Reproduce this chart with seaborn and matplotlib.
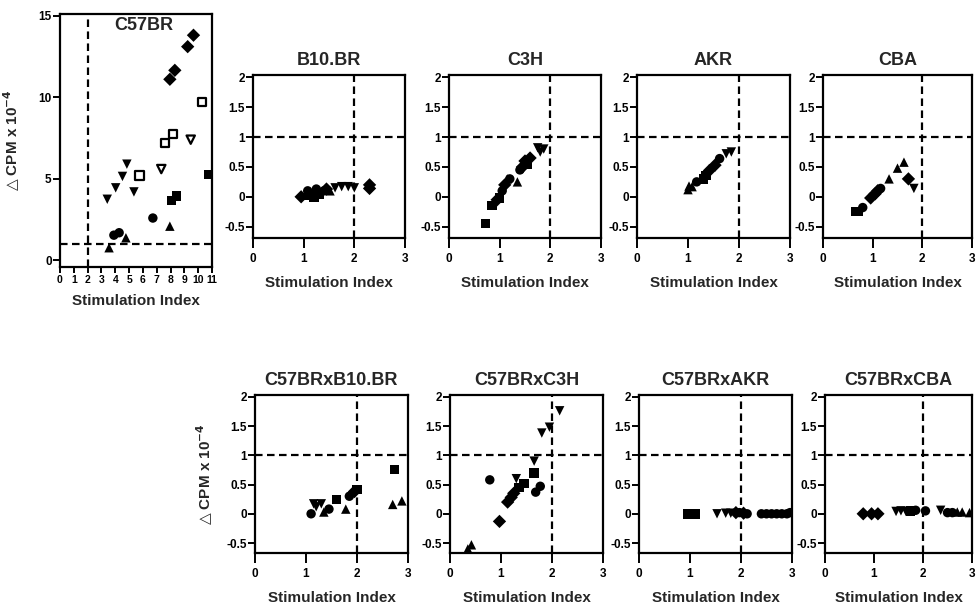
import matplotlib
matplotlib.use("Agg")
import matplotlib.pyplot as plt
import pandas as pd
import seaborn as sns

# symbols: D diamond, o circle, s square, ^ triangle, v down triangle, so / vo = open square / open down triangle

# C57BR (parental, own panel)
c57br_si = [9.66, 9.24, 8.31, 7.95, 10.27, 8.19, 7.58, 5.75, 9.46, 7.33, 4.84, 4.52, 4.03, 3.42, 5.35,
            10.76, 8.43, 8.07, 6.72, 4.28, 3.9, 7.95, 4.77, 3.55]
c57br_cpm = [13.8, 13.1, 11.65, 11.1, 9.7, 7.76, 7.2, 5.2, 7.4, 5.6, 5.9, 5.15, 4.45, 3.75, 4.2,
             5.27, 3.94, 3.67, 2.6, 1.7, 1.55, 2.1, 1.39, 0.78]
c57br_sym = ['D', 'D', 'D', 'D', 'so', 'so', 'so', 'so', 'vo', 'vo', 'v', 'v', 'v', 'v', 'v',
             's', 's', 's', 'o', 'o', 'o', '^', '^', '^']

# B10.BR
b10br_si = [0.95, 1.45, 2.3, 2.3, 1.08, 1.25, 1.4, 1.2, 1.1, 1.3, 1.52, 1.62, 1.75, 1.88, 2.0]
b10br_cpm = [0.0, 0.13, 0.2, 0.14, 0.1, 0.13, 0.1, 0.0, 0.03, 0.05, 0.1, 0.15, 0.17, 0.17, 0.15]
b10br_sym = ['D', 'D', 'D', 'D', 'o', 'o', 'o', 's', 's', 's', '^', 'v', 'v', 'v', 'v']

# C3H
c3h_si = [0.72, 0.85, 1.0, 1.55, 0.95, 1.1, 1.45, 1.6, 1.5, 1.05, 1.2, 1.4, 1.35, 1.15, 1.75, 1.87, 1.8]
c3h_cpm = [-0.45, -0.15, -0.02, 0.55, -0.05, 0.2, 0.5, 0.65, 0.6, 0.1, 0.3, 0.45, 0.25, 0.3, 0.82, 0.8, 0.75]
c3h_sym = ['s', 's', 's', 's', 'D', 'D', 'D', 'D', 'D', 'o', 'o', 'o', '^', '^', 'v', 'v', 'v']

# AKR
akr_si = [1.0, 1.02, 1.08, 1.17, 1.3, 1.35, 1.42, 1.53, 1.62, 1.75, 1.85]
akr_cpm = [0.12, 0.18, 0.17, 0.25, 0.3, 0.36, 0.44, 0.53, 0.64, 0.72, 0.75]
akr_sym = ['^', '^', '^', 'o', 's', 's', 'D', 'D', 'o', 'v', 'v']

# CBA
cba_si = [0.66, 0.72, 0.8, 0.96, 1.05, 1.1, 1.16, 1.33, 1.5, 1.63, 1.72, 1.83]
cba_cpm = [-0.25, -0.25, -0.18, -0.02, 0.05, 0.1, 0.14, 0.3, 0.48, 0.58, 0.3, 0.14]
cba_sym = ['s', 's', 'o', 'D', 'D', 'D', 'o', '^', '^', '^', 'D', 'v']

# C57BRxB10.BR
xb10_si = [1.1, 1.45, 1.85, 1.15, 1.3, 1.2, 1.35, 1.78, 2.7, 2.88, 1.6, 2.0, 2.74, 1.95]
xb10_cpm = [0.0, 0.08, 0.3, 0.17, 0.17, 0.12, 0.03, 0.08, 0.16, 0.22, 0.24, 0.42, 0.76, 0.38]
xb10_sym = ['o', 'o', 'o', 'v', 'v', 'v', '^', '^', '^', '^', 's', 's', 's', 'D']

# C57BRxC3H
xc3h_si = [2.15, 1.95, 1.8, 1.65, 1.3, 1.65, 1.45, 1.35, 0.78, 1.77, 1.68, 1.25, 1.13, 0.97, 1.2, 0.42, 0.35]
xc3h_cpm = [1.76, 1.48, 1.38, 0.9, 0.6, 0.7, 0.52, 0.45, 0.58, 0.47, 0.37, 0.35, 0.2, -0.13, 0.28, -0.53, -0.6]
xc3h_sym = ['v', 'v', 'v', 'v', 'v', 's', 's', 's', 'o', 'o', 'o', 'D', 'D', 'D', 'D', '^', '^']

# C57BRxAKR
xakr_si = [0.95, 1.0, 1.05, 1.1, 1.53, 1.7, 1.8, 1.9, 2.05, 1.97, 2.12,
           2.4, 2.5, 2.6, 2.7, 2.8, 2.9, 2.96]
xakr_cpm = [0.0, 0.0, 0.0, 0.0, 0.0, 0.01, 0.01, 0.02, 0.01, 0.02, 0.0,
            0.0, 0.0, 0.0, 0.0, 0.0, 0.0, 0.02]
xakr_sym = ['s', 's', 's', 's', 'v', 'v', 'v', 'D', 'D', 'o', 'o',
            'o', 'o', 'o', 'o', 'o', 'o', 'o']

# C57BRxCBA
xcba_si = [0.78, 0.95, 1.08, 1.45, 1.55, 1.65, 1.75, 1.85, 2.05, 2.36, 2.5, 2.6, 2.7, 2.8, 2.95]
xcba_cpm = [0.0, 0.0, 0.0, 0.04, 0.05, 0.04, 0.05, 0.06, 0.05, 0.06, 0.02, 0.02, 0.03, 0.03, 0.02]
xcba_sym = ['D', 'D', 'D', 'v', 'v', 'v', 's', 'o', 'o', 'v', 'o', 'o', '^', '^', '^']

small_yticks = [-0.5, 0, 0.5, 1, 1.5, 2]
small_ylabels = ['-0.5', '0', '0.5', '1', '1.5', '2']
ylabel_text = r'$\bigtriangleup$ CPM x 10$^{-4}$'

sns.set_theme(style="ticks")
plt.rcParams['font.family'] = ['Liberation Sans', 'DejaVu Sans']
plt.rcParams['font.weight'] = 'bold'
plt.rcParams['mathtext.default'] = 'bf'

W, H = 979, 609
fig = plt.figure(figsize=(W / 100, H / 100), dpi=100)


def add_ax(l, t, r, b):
    return fig.add_axes([l / W, 1 - b / H, (r - l) / W, (b - t) / H])


def draw(ax, si, cpm, sym):
    df = pd.DataFrame({'si': si, 'cpm': cpm, 'sym': sym})
    full = df[~df['sym'].isin(['so', 'vo'])]
    sns.scatterplot(data=full, x='si', y='cpm', style='sym',
                    markers={k: k for k in full['sym'].unique()},
                    color='black', s=46, linewidth=0, legend=False, ax=ax, zorder=3)
    hollow = df[df['sym'].isin(['so', 'vo'])]
    if len(hollow):
        sns.scatterplot(data=hollow, x='si', y='cpm', style='sym',
                        markers={'so': 's', 'vo': 'v'}, color='white', edgecolor='black',
                        s=36, linewidth=1.6, legend=False, ax=ax, zorder=3)
    dash = (0, (3.4, 2.0))
    ax.axhline(1, color='black', lw=1.6, ls=dash, zorder=2)
    ax.axvline(2, color='black', lw=1.6, ls=dash, zorder=2)
    for sp in ax.spines.values():
        sp.set_linewidth(1.6)
        sp.set_color('black')
    ax.tick_params(axis='y', direction='out', length=5, width=1.4, labelsize=8.5, pad=1, colors='black')
    ax.tick_params(axis='x', direction='out', length=7, width=1.4, labelsize=8.5, pad=4, colors='black')
    ax.set_xlabel('Stimulation Index', fontsize=11, fontweight='bold', labelpad=8)
    ax.set_ylabel('')


# big C57BR panel
ax = add_ax(60, 14, 212, 267)
draw(ax, c57br_si, c57br_cpm, c57br_sym)
ax.set_xlim(0, 11)
ax.set_ylim(-0.4, 15.1)
ax.set_xticks(range(12))
ax.set_yticks([0, 5, 10, 15])
ax.tick_params(axis='x', labelsize=7.5, length=4, pad=2)
ax.set_xlabel('Stimulation Index', fontsize=11, fontweight='bold', labelpad=6)
ax.text(0.55, 0.955, 'C57BR', transform=ax.transAxes, ha='center', va='center',
        fontsize=13, fontweight='bold')
ax.set_ylabel(ylabel_text, fontsize=11, fontweight='bold', labelpad=12)

top_panels = [
    ('B10.BR', (253, 75, 405, 238), b10br_si, b10br_cpm, b10br_sym),
    ('C3H', (449, 75, 601, 238), c3h_si, c3h_cpm, c3h_sym),
    ('AKR', (637, 75, 790, 238), akr_si, akr_cpm, akr_sym),
    ('CBA', (823, 75, 972, 238), cba_si, cba_cpm, cba_sym),
]
bottom_panels = [
    ('C57BRxB10.BR', (255, 395, 408, 553), xb10_si, xb10_cpm, xb10_sym),
    ('C57BRxC3H', (450, 395, 603, 553), xc3h_si, xc3h_cpm, xc3h_sym),
    ('C57BRxAKR', (639, 395, 792, 553), xakr_si, xakr_cpm, xakr_sym),
    ('C57BRxCBA', (825, 395, 972, 553), xcba_si, xcba_cpm, xcba_sym),
]

for row, ylim in ((top_panels, (-0.69, 2.04)), (bottom_panels, (-0.67, 2.03))):
    for i, (name, rect, si, cpm, sym) in enumerate(row):
        ax = add_ax(*rect)
        draw(ax, si, cpm, sym)
        ax.set_xlim(0, 3)
        ax.set_ylim(*ylim)
        ax.set_xticks([0, 1, 2, 3])
        ax.set_yticks(small_yticks)
        ax.set_yticklabels(small_ylabels)
        ax.set_title(name, fontsize=13, fontweight='bold', pad=7)
        if row is bottom_panels and i == 0:
            ax.set_ylabel(ylabel_text, fontsize=11, fontweight='bold', labelpad=8)

fig.savefig('out.png', dpi=100)
